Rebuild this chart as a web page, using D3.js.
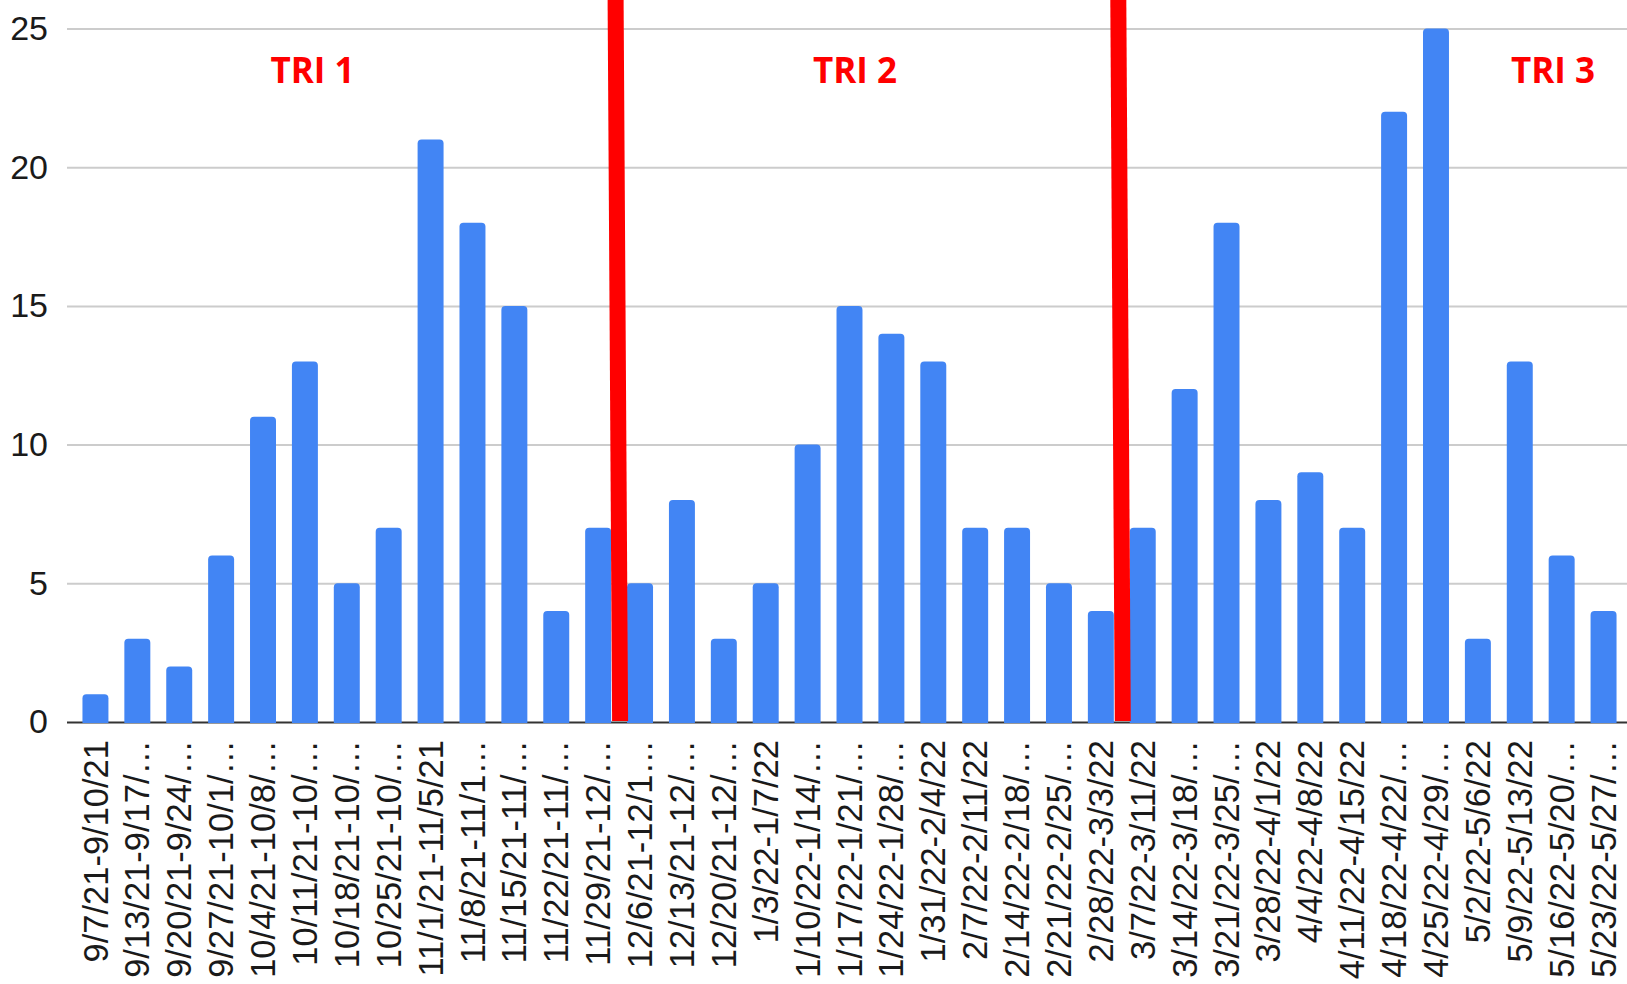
<!DOCTYPE html>
<html>
<head>
<meta charset="utf-8">
<script src="https://cdn.jsdelivr.net/npm/d3@7"></script>
<style>
  html, body { margin: 0; padding: 0; background: #fff; }
  svg { display: block; }
</style>
</head>
<body>
<div id="chart"></div>
<script>
// weekly counts, one bar per week
const weeks = [
  "9/7/21-9/10/21", "9/13/21-9/17/…", "9/20/21-9/24/…", "9/27/21-10/1/…",
  "10/4/21-10/8/…", "10/11/21-10/…", "10/18/21-10/…", "10/25/21-10/…",
  "11/1/21-11/5/21", "11/8/21-11/1…", "11/15/21-11/…", "11/22/21-11/…",
  "11/29/21-12/…", "12/6/21-12/1…", "12/13/21-12/…", "12/20/21-12/…",
  "1/3/22-1/7/22", "1/10/22-1/14/…", "1/17/22-1/21/…", "1/24/22-1/28/…",
  "1/31/22-2/4/22", "2/7/22-2/11/22", "2/14/22-2/18/…", "2/21/22-2/25/…",
  "2/28/22-3/3/22", "3/7/22-3/11/22", "3/14/22-3/18/…", "3/21/22-3/25/…",
  "3/28/22-4/1/22", "4/4/22-4/8/22", "4/11/22-4/15/22", "4/18/22-4/22/…",
  "4/25/22-4/29/…", "5/2/22-5/6/22", "5/9/22-5/13/22", "5/16/22-5/20/…",
  "5/23/22-5/27/…"
]
const counts = [
  1, 3, 2, 6, 11, 13, 5, 7, 21, 18, 15, 4, 7,
  5, 8, 3, 5, 10, 15, 14, 13, 7, 7, 5, 4,
  7, 12, 18, 8, 9, 7, 22, 25, 3, 13, 6, 4
]
const yTicks = [0, 5, 10, 15, 20, 25]

// trimester splits: first week of each new trimester
const splitWeeks = ["12/6/21-12/1…", "3/7/22-3/11/22"]
const triLabels = ["TRI 1", "TRI 2", "TRI 3"]

const width = 1627, height = 984
const left = 67, zeroY = 722, topY = 28.5

const svg = d3.select("#chart").append("svg")
    .attr("width", width)
    .attr("height", height)

const x = d3.scaleBand()
    .domain(weeks)
    .range([74.5, 1624.5])
    .paddingInner(0.38)
    .paddingOuter(0.19)

const y = d3.scaleLinear()
    .domain([0, 25])
    .range([zeroY, topY])

// y axis + gridlines
const yAxis = svg.append("g")
    .attr("transform", `translate(${left},0)`)
    .call(d3.axisLeft(y).tickValues(yTicks).tickSize(-(width - left)).tickPadding(19))
yAxis.select(".domain").remove()
yAxis.selectAll(".tick line")
    .attr("stroke", d => d === 0 ? "#333" : "#cccccc")
    .attr("stroke-width", 2)
yAxis.selectAll(".tick text")
    .attr("fill", "#1a1a1a")
    .style("font-family", "'Liberation Sans', Arial, sans-serif")
    .style("font-size", "34px")

// bars, rounded top corners
const r = 4
svg.append("g").selectAll("path")
    .data(counts)
    .enter().append("path")
    .attr("fill", "#4285f4")
    .attr("d", (d, i) => {
        const x0 = x(weeks[i]), w = x.bandwidth()
        const y0 = y(d), y1 = y(0) + 1
        return `M${x0},${y1}V${y0 + r}Q${x0},${y0} ${x0 + r},${y0}` +
               `H${x0 + w - r}Q${x0 + w},${y0} ${x0 + w},${y0 + r}V${y1}Z`
    })

// x axis labels, rotated
const xAxis = svg.append("g")
    .attr("transform", `translate(0,${zeroY})`)
    .call(d3.axisBottom(x).tickSize(0))
xAxis.select(".domain").remove()
xAxis.selectAll(".tick text")
    .attr("transform", "rotate(-90)")
    .attr("x", -18)
    .attr("y", 0)
    .attr("dy", "0.35em")
    .attr("text-anchor", "end")
    .attr("fill", "#1a1a1a")
    .style("font-family", "'Liberation Sans', Arial, sans-serif")
    .style("font-size", "34.5px")

// red trimester dividers (slightly slanted, hand drawn look)
const gap = x.step() * x.paddingInner() / 2
svg.append("g").selectAll("line")
    .data(splitWeeks)
    .enter().append("line")
    .attr("x1", d => x(d) - gap - 3.5)
    .attr("x2", d => x(d) - gap + 1)
    .attr("y1", 0)
    .attr("y2", zeroY - 1)
    .attr("stroke", "#ff0000")
    .attr("stroke-width", 16)

// trimester titles
const triX = [312.5, 855, 1553]
svg.append("g").selectAll("text")
    .data(triLabels)
    .enter().append("text")
    .attr("x", (d, i) => triX[i])
    .attr("y", 83)
    .attr("text-anchor", "middle")
    .attr("fill", "#ff0000")
    .style("font-family", "'Open Sans', sans-serif")
    .style("font-weight", "bold")
    .style("font-size", "35px")
    .text(d => d)
</script>
</body>
</html>
